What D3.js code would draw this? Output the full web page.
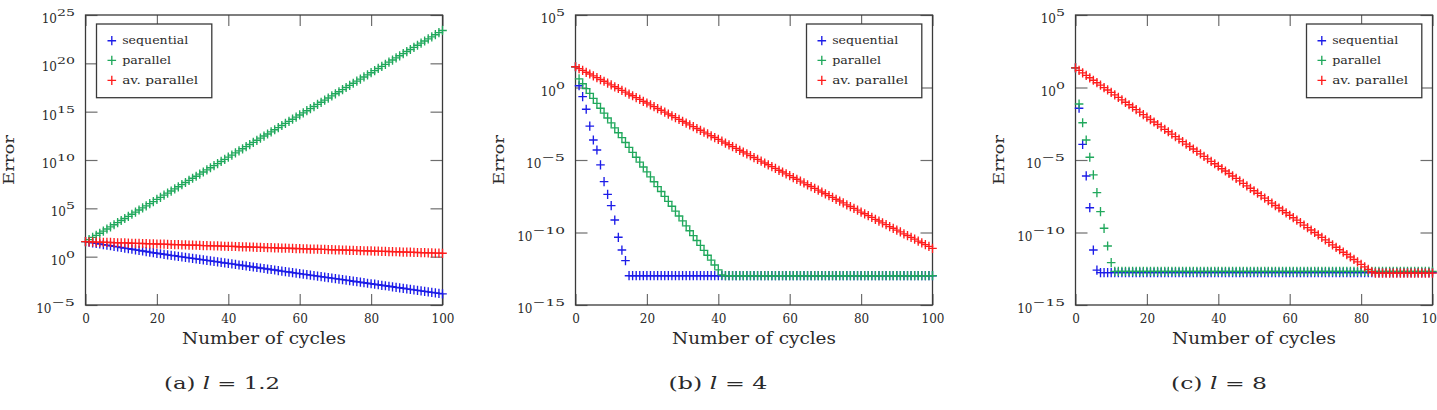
<!DOCTYPE html>
<html><head><meta charset="utf-8">
<script src="https://cdn.jsdelivr.net/npm/d3@7"></script>
<style>
body{margin:0;background:#fff;}
svg{display:block;}
text{font-family:"DejaVu Serif",serif;fill:#2a2a2a;}
</style>
</head><body>
<svg id="chart" width="1437" height="410"></svg>
<script>
// ---------------- data (log10 of the error) ----------------
const cycles = [0,1,2,3,4,5,6,7,8,9,10,11,12,13,14,15,16,17,18,19,20,21,22,23,24,25,26,27,28,29,30,31,32,33,34,35,36,37,38,39,40,41,42,43,44,45,46,47,48,49,50,51,52,53,54,55,56,57,58,59,60,61,62,63,64,65,66,67,68,69,70,71,72,73,74,75,76,77,78,79,80,81,82,83,84,85,86,87,88,89,90,91,92,93,94,95,96,97,98,99,100];

const seriesNames = ["sequential","parallel","av. parallel"];
const xTickLabels = ["0","20","40","60","80","100"];
const yTickExpA = [-5,0,5,10,15,20,25];
const yTickExpBC = [-15,-10,-5,0,5];
const captions = [["(a) ","l"," = 1.2"],["(b) ","l"," = 4"],["(c) ","l"," = 8"]];

// (a) l = 1.2
const seqA = [1.55,1.49,1.43,1.37,1.31,1.25,1.19,1.13,1.07,1.01,
0.95,0.89,0.83,0.77,0.71,0.65,0.59,0.53,0.47,0.41,
0.35,0.30,0.245,0.19,0.14,0.09,0.035,-0.02,-0.07,-0.12,
-0.175,-0.23,-0.28,-0.33,-0.385,-0.44,-0.49,-0.54,-0.595,-0.65,
-0.70,-0.75,-0.805,-0.86,-0.91,-0.96,-1.015,-1.07,-1.12,-1.17,
-1.225,-1.28,-1.33,-1.38,-1.435,-1.49,-1.54,-1.59,-1.645,-1.70,
-1.75,-1.80,-1.855,-1.91,-1.96,-2.01,-2.065,-2.12,-2.17,-2.22,
-2.275,-2.33,-2.38,-2.43,-2.485,-2.54,-2.59,-2.64,-2.695,-2.75,
-2.80,-2.85,-2.905,-2.96,-3.01,-3.06,-3.115,-3.17,-3.22,-3.27,
-3.325,-3.38,-3.43,-3.48,-3.535,-3.59,-3.64,-3.69,-3.745,-3.80,
-3.85];
const parA = [1.55,1.77,1.99,2.21,2.42,2.64,2.86,3.08,3.30,3.52,
3.74,3.95,4.17,4.39,4.61,4.83,5.05,5.26,5.48,5.70,
5.92,6.14,6.36,6.58,6.79,7.01,7.23,7.45,7.67,7.89,
8.11,8.32,8.54,8.76,8.98,9.20,9.42,9.63,9.85,10.07,
10.29,10.51,10.73,10.95,11.16,11.38,11.60,11.82,12.04,12.26,
12.48,12.69,12.91,13.13,13.35,13.57,13.79,14.00,14.22,14.44,
14.66,14.88,15.10,15.32,15.53,15.75,15.97,16.19,16.41,16.63,
16.85,17.06,17.28,17.50,17.72,17.94,18.16,18.37,18.59,18.81,
19.03,19.25,19.47,19.69,19.90,20.12,20.34,20.56,20.78,21.00,
21.22,21.43,21.65,21.87,22.09,22.31,22.53,22.74,22.96,23.18,
23.40];
const avA = [1.55,1.54,1.53,1.51,1.50,1.49,1.48,1.47,1.45,1.44,
1.43,1.42,1.41,1.39,1.38,1.37,1.36,1.35,1.33,1.32,
1.31,1.30,1.29,1.27,1.26,1.25,1.24,1.23,1.21,1.20,
1.19,1.18,1.17,1.15,1.14,1.13,1.12,1.11,1.09,1.08,
1.07,1.06,1.05,1.03,1.02,1.01,1.00,0.99,0.97,0.96,
0.95,0.94,0.93,0.91,0.90,0.89,0.88,0.87,0.85,0.84,
0.83,0.82,0.81,0.79,0.78,0.77,0.76,0.75,0.73,0.72,
0.71,0.70,0.69,0.67,0.66,0.65,0.64,0.63,0.61,0.60,
0.59,0.58,0.57,0.55,0.54,0.53,0.52,0.51,0.49,0.48,
0.47,0.46,0.45,0.43,0.42,0.41,0.40,0.39,0.37,0.36,
0.35];

// (b) l = 4
const seqB = [1.43,0.12,-0.63,-1.50,-2.66,-3.62,-4.31,-5.34,-6.49,-7.37,
-8.15,-9.14,-10.33,-11.21,-11.94,-12.98,-12.98,-12.98,-12.98,-12.98,
-12.98,-12.98,-12.98,-12.98,-12.98,-12.98,-12.98,-12.98,-12.98,-12.98,
-12.98,-12.98,-12.98,-12.98,-12.98,-12.98,-12.98,-12.98,-12.98,-12.98,
-12.98,-12.98,-12.98,-12.98,-12.98,-12.98,-12.98,-12.98,-12.98,-12.98,
-12.98,-12.98,-12.98,-12.98,-12.98,-12.98,-12.98,-12.98,-12.98,-12.98,
-12.98,-12.98,-12.98,-12.98,-12.98,-12.98,-12.98,-12.98,-12.98,-12.98,
-12.98,-12.98,-12.98,-12.98,-12.98,-12.98,-12.98,-12.98,-12.98,-12.98,
-12.98,-12.98,-12.98,-12.98,-12.98,-12.98,-12.98,-12.98,-12.98,-12.98,
-12.98,-12.98,-12.98,-12.98,-12.98,-12.98,-12.98,-12.98,-12.98,-12.98,
-12.98];
const parB = [1.43,0.60,0.26,-0.08,-0.41,-0.75,-1.09,-1.43,-1.77,-2.10,
-2.44,-2.78,-3.12,-3.46,-3.79,-4.13,-4.47,-4.81,-5.15,-5.48,
-5.82,-6.16,-6.50,-6.84,-7.17,-7.51,-7.85,-8.19,-8.53,-8.86,
-9.20,-9.54,-9.88,-10.22,-10.55,-10.89,-11.23,-11.57,-11.91,-12.24,
-12.58,-12.92,-12.98,-12.98,-12.98,-12.98,-12.98,-12.98,-12.98,-12.98,
-12.98,-12.98,-12.98,-12.98,-12.98,-12.98,-12.98,-12.98,-12.98,-12.98,
-12.98,-12.98,-12.98,-12.98,-12.98,-12.98,-12.98,-12.98,-12.98,-12.98,
-12.98,-12.98,-12.98,-12.98,-12.98,-12.98,-12.98,-12.98,-12.98,-12.98,
-12.98,-12.98,-12.98,-12.98,-12.98,-12.98,-12.98,-12.98,-12.98,-12.98,
-12.98,-12.98,-12.98,-12.98,-12.98,-12.98,-12.98,-12.98,-12.98,-12.98,
-12.98];
const avB = [1.43,1.30,1.18,1.05,0.93,0.80,0.68,0.55,0.43,0.30,
0.18,0.05,-0.07,-0.20,-0.32,-0.45,-0.57,-0.70,-0.82,-0.95,
-1.07,-1.20,-1.32,-1.45,-1.57,-1.70,-1.83,-1.95,-2.08,-2.20,
-2.33,-2.45,-2.58,-2.70,-2.83,-2.95,-3.08,-3.20,-3.33,-3.45,
-3.58,-3.70,-3.83,-3.95,-4.08,-4.20,-4.33,-4.45,-4.58,-4.70,
-4.83,-4.96,-5.08,-5.21,-5.33,-5.46,-5.58,-5.71,-5.83,-5.96,
-6.08,-6.21,-6.33,-6.46,-6.58,-6.71,-6.83,-6.96,-7.08,-7.21,
-7.33,-7.46,-7.58,-7.71,-7.83,-7.96,-8.09,-8.21,-8.34,-8.46,
-8.59,-8.71,-8.84,-8.96,-9.09,-9.21,-9.34,-9.46,-9.59,-9.71,
-9.84,-9.96,-10.09,-10.21,-10.34,-10.46,-10.59,-10.71,-10.84,-10.96,
-11.09];

// (c) l = 8
const seqC = [1.35,-1.43,-3.92,-6.10,-8.29,-11.21,-12.59,-12.77,-12.77,-12.77,
-12.77,-12.77,-12.77,-12.77,-12.77,-12.77,-12.77,-12.77,-12.77,-12.77,
-12.77,-12.77,-12.77,-12.77,-12.77,-12.77,-12.77,-12.77,-12.77,-12.77,
-12.77,-12.77,-12.77,-12.77,-12.77,-12.77,-12.77,-12.77,-12.77,-12.77,
-12.77,-12.77,-12.77,-12.77,-12.77,-12.77,-12.77,-12.77,-12.77,-12.77,
-12.77,-12.77,-12.77,-12.77,-12.77,-12.77,-12.77,-12.77,-12.77,-12.77,
-12.77,-12.77,-12.77,-12.77,-12.77,-12.77,-12.77,-12.77,-12.77,-12.77,
-12.77,-12.77,-12.77,-12.77,-12.77,-12.77,-12.77,-12.77,-12.77,-12.77,
-12.77,-12.77,-12.77,-12.77,-12.77,-12.77,-12.77,-12.77,-12.77,-12.77,
-12.77,-12.77,-12.77,-12.77,-12.77,-12.77,-12.77,-12.77,-12.77,-12.77,
-12.77];
const parC = [1.35,-1.14,-2.43,-3.62,-4.81,-6.03,-7.25,-8.56,-9.71,-10.93,
-12.08,-12.68,-12.68,-12.68,-12.68,-12.68,-12.68,-12.68,-12.68,-12.68,
-12.68,-12.68,-12.68,-12.68,-12.68,-12.68,-12.68,-12.68,-12.68,-12.68,
-12.68,-12.68,-12.68,-12.68,-12.68,-12.68,-12.68,-12.68,-12.68,-12.68,
-12.68,-12.68,-12.68,-12.68,-12.68,-12.68,-12.68,-12.68,-12.68,-12.68,
-12.68,-12.68,-12.68,-12.68,-12.68,-12.68,-12.68,-12.68,-12.68,-12.68,
-12.68,-12.68,-12.68,-12.68,-12.68,-12.68,-12.68,-12.68,-12.68,-12.68,
-12.68,-12.68,-12.68,-12.68,-12.68,-12.68,-12.68,-12.68,-12.68,-12.68,
-12.68,-12.68,-12.68,-12.68,-12.68,-12.68,-12.68,-12.68,-12.68,-12.68,
-12.68,-12.68,-12.68,-12.68,-12.68,-12.68,-12.68,-12.68,-12.68,-12.68,
-12.68];
const avC = [1.35,1.18,1.01,0.84,0.67,0.50,0.33,0.16,-0.01,-0.17,
-0.34,-0.51,-0.68,-0.85,-1.02,-1.19,-1.36,-1.53,-1.70,-1.87,
-2.04,-2.21,-2.38,-2.55,-2.72,-2.89,-3.05,-3.22,-3.39,-3.56,
-3.73,-3.90,-4.07,-4.24,-4.41,-4.58,-4.75,-4.92,-5.09,-5.26,
-5.43,-5.60,-5.76,-5.93,-6.10,-6.27,-6.44,-6.61,-6.78,-6.95,
-7.12,-7.29,-7.46,-7.63,-7.80,-7.97,-8.14,-8.31,-8.48,-8.64,
-8.81,-8.98,-9.15,-9.32,-9.49,-9.66,-9.83,-10.00,-10.17,-10.34,
-10.51,-10.68,-10.85,-11.02,-11.19,-11.36,-11.52,-11.69,-11.86,-12.03,
-12.20,-12.37,-12.54,-12.71,-12.80,-12.80,-12.80,-12.80,-12.80,-12.80,
-12.80,-12.80,-12.80,-12.80,-12.80,-12.80,-12.80,-12.80,-12.80,-12.80,
-12.80];

// ---------------- layout / style ----------------
const colors = ["#1c1ce8","#20a85c","#ff1c1c"];
const plotW = 357, plotTop = 15, plotBottom = 305;
const panels = [
  {left:85.5,  yDomain:[1e-5,1e25], yExp:yTickExpA,  series:[seqA,parA,avA], legend:"left",  cap:captions[0], capX:222, capW:116},
  {left:575.5, yDomain:[1e-15,1e5], yExp:yTickExpBC, series:[seqB,parB,avB], legend:"right", cap:captions[1], capX:718, capW:99},
  {left:1075.5,yDomain:[1e-15,1e5], yExp:yTickExpBC, series:[seqC,parC,avC], legend:"right", cap:captions[2], capX:1219, capW:96}
];
const legendW = 115.3, legendH = 73.7, legendTop = 24;
const legendRowY = [40.7, 60.3, 80.3];
const legendTextW = [66, 49, 76];
const plusPath = "M-4.3,0H4.3M0,-4.6V4.6";

const svg = d3.select("#chart");

function supWidth(exp){
  return String(exp).split("").reduce((s,c)=> s + (c==="-" ? 14.5 : 9), 0);
}

panels.forEach(p => {
  const x = d3.scaleLinear().domain([0,100]).range([p.left, p.left+plotW]);
  const y = d3.scaleLog().domain(p.yDomain).range([plotBottom, plotTop]);
  const g = svg.append("g");

  g.append("rect").attr("x",p.left).attr("y",plotTop).attr("width",plotW).attr("height",plotBottom-plotTop)
    .attr("fill","#fff");

  const xTickVals = xTickLabels.map(Number);
  const yTickVals = p.yExp.map(e => Math.pow(10,e));

  const styleAxis = a => { a.select(".domain").remove(); a.selectAll(".tick line").attr("stroke","#6e6e6e").attr("stroke-width",1.2); };

  const bottom = g.append("g").attr("transform",`translate(0,${plotBottom})`)
    .call(d3.axisBottom(x).tickValues(xTickVals).tickSizeInner(-11).tickSizeOuter(0).tickPadding(9).tickFormat((d,i)=>xTickLabels[i]));
  styleAxis(bottom);
  bottom.selectAll("text").attr("font-size",12).attr("font-family","DejaVu Serif").attr("fill","#2a2a2a");

  const topA = g.append("g").attr("transform",`translate(0,${plotTop})`)
    .call(d3.axisTop(x).tickValues(xTickVals).tickSizeInner(-11).tickSizeOuter(0).tickFormat(""));
  styleAxis(topA);

  const leftA = g.append("g").attr("transform",`translate(${p.left},0)`)
    .call(d3.axisLeft(y).tickValues(yTickVals).tickSizeInner(-12).tickSizeOuter(0).tickFormat(""));
  styleAxis(leftA);
  const rightA = g.append("g").attr("transform",`translate(${p.left+plotW},0)`)
    .call(d3.axisRight(y).tickValues(yTickVals).tickSizeInner(-12).tickSizeOuter(0).tickFormat(""));
  styleAxis(rightA);

  // y tick labels 10^e
  const labelRight = p.left - 10.5;
  p.yExp.forEach(e => {
    const ty = y(Math.pow(10,e));
    const sw = supWidth(e);
    g.append("text").attr("x",labelRight - sw).attr("y",ty+8).attr("text-anchor","end")
      .attr("font-size",12).text("10");
    g.append("text").attr("x",labelRight - sw).attr("y",ty+1).attr("text-anchor","start")
      .attr("font-size",10).attr("textLength",sw).attr("lengthAdjust","spacingAndGlyphs")
      .text(String(e).replace("-","\u2212"));
  });

  // frame
  g.append("rect").attr("x",p.left).attr("y",plotTop).attr("width",plotW).attr("height",plotBottom-plotTop)
    .attr("fill","none").attr("stroke","#3a3a3a").attr("stroke-width",1.3);

  // markers
  p.series.forEach((s,k) => {
    g.append("g").selectAll("path").data(s).join("path")
      .attr("transform",(d,i)=>`translate(${x(cycles[i])},${y(Math.pow(10,d))})`)
      .attr("d",plusPath).attr("fill","none").attr("stroke",colors[k]).attr("stroke-width",1.35);
  });

  // legend
  const lx = p.legend === "left" ? p.left + 11 : p.left + plotW - 10.7 - legendW;
  const lg = g.append("g");
  lg.append("rect").attr("x",lx).attr("y",legendTop).attr("width",legendW).attr("height",legendH)
    .attr("fill","#fff").attr("stroke","#3a3a3a").attr("stroke-width",1.3);
  seriesNames.forEach((name,k) => {
    lg.append("path").attr("transform",`translate(${lx+15.3},${legendRowY[k]})`)
      .attr("d",plusPath).attr("fill","none").attr("stroke",colors[k]).attr("stroke-width",1.35);
    lg.append("text").attr("x",lx+25.7).attr("y",legendRowY[k]+3.5).attr("font-size",11)
      .attr("textLength",legendTextW[k]).attr("lengthAdjust","spacingAndGlyphs").attr("fill","#333").text(name);
  });

  // axis titles
  g.append("text").attr("transform",`translate(${p.left-72},${(plotTop+plotBottom)/2}) rotate(-90)`)
    .attr("text-anchor","middle").attr("font-size",14).attr("textLength",50).attr("lengthAdjust","spacingAndGlyphs")
    .attr("fill","#222").text("Error");
  g.append("text").attr("x",p.left+plotW/2).attr("y",344).attr("text-anchor","middle").attr("font-size",16)
    .attr("textLength",164).attr("lengthAdjust","spacingAndGlyphs").attr("fill","#222").text("Number of cycles");

  // caption
  const cap = g.append("text").attr("x",p.capX).attr("y",389).attr("text-anchor","middle").attr("font-size",16).attr("fill","#111");
  cap.append("tspan").text(p.cap[0]);
  cap.append("tspan").attr("font-style","italic").text(p.cap[1]);
  cap.append("tspan").text(p.cap[2]);
  const bw = cap.node().getBBox().width;
  const k = p.capW / bw;
  cap.attr("transform",`translate(${p.capX},0) scale(${k},1) translate(${-p.capX},0)`);
});
</script>
</body></html>
